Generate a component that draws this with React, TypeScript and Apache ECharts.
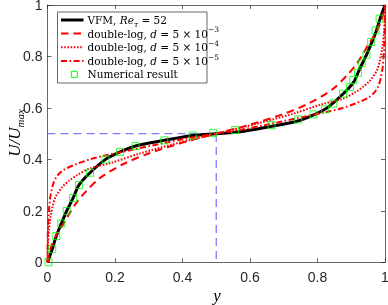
import React, { useEffect, useRef } from "react";
import * as echarts from "echarts";

// ---- data ----
const tickValues = [0, 0.2, 0.4, 0.6, 0.8, 1];
const tickLabels = ["0", "0.2", "0.4", "0.6", "0.8", "1"];

const vfmX = [0, 0.007, 0.014, 0.026, 0.041, 0.057, 0.076, 0.093, 0.126, 0.172, 0.215, 0.261, 0.346, 0.43, 0.5, 0.57, 0.654, 0.739, 0.785, 0.828, 0.874, 0.907, 0.924, 0.943, 0.959, 0.974, 0.986, 0.993, 1];
const vfmU = [0, 0.025, 0.051, 0.102, 0.151, 0.2, 0.25, 0.3, 0.348, 0.4, 0.429, 0.452, 0.474, 0.493, 0.5, 0.507, 0.526, 0.548, 0.571, 0.6, 0.652, 0.7, 0.749, 0.8, 0.849, 0.898, 0.949, 0.975, 1];

const d3X = [0, 0.005, 0.012, 0.022, 0.035, 0.05, 0.065, 0.085, 0.108, 0.156, 0.225, 0.3, 0.4, 0.5, 0.6, 0.7, 0.775, 0.844, 0.892, 0.915, 0.935, 0.95, 0.965, 0.978, 0.988, 0.995, 1];
const d3U = [0, 0.035, 0.065, 0.095, 0.125, 0.155, 0.19, 0.23, 0.267, 0.328, 0.382, 0.423, 0.465, 0.5, 0.535, 0.577, 0.618, 0.672, 0.733, 0.77, 0.81, 0.845, 0.875, 0.905, 0.935, 0.965, 1];

const d4X = [0, 0.001, 0.003, 0.006, 0.009, 0.015, 0.024, 0.044, 0.065, 0.088, 0.126, 0.187, 0.274, 0.373, 0.5, 0.627, 0.726, 0.813, 0.874, 0.912, 0.935, 0.956, 0.976, 0.985, 0.991, 0.994, 0.997, 0.999, 1];
const d4U = [0, 0.06, 0.11, 0.15, 0.176, 0.215, 0.254, 0.293, 0.318, 0.339, 0.365, 0.386, 0.423, 0.459, 0.5, 0.541, 0.577, 0.614, 0.635, 0.661, 0.682, 0.707, 0.746, 0.785, 0.824, 0.85, 0.89, 0.94, 1];

const d5X = [0, 0.0005, 0.0015, 0.003, 0.007, 0.012, 0.019, 0.03, 0.049, 0.088, 0.126, 0.167, 0.25, 0.35, 0.42, 0.5, 0.58, 0.65, 0.75, 0.833, 0.874, 0.912, 0.951, 0.97, 0.981, 0.988, 0.993, 0.997, 0.9985, 0.9995, 1];
const d5U = [0, 0.08, 0.14, 0.18, 0.243, 0.28, 0.313, 0.338, 0.36, 0.383, 0.4, 0.414, 0.437, 0.465, 0.483, 0.5, 0.517, 0.535, 0.563, 0.586, 0.6, 0.617, 0.64, 0.662, 0.687, 0.72, 0.757, 0.82, 0.86, 0.92, 1];

const numX = [0.003, 0.014, 0.026, 0.041, 0.057, 0.076, 0.093, 0.126, 0.172, 0.215, 0.261, 0.346, 0.43, 0.491, 0.556, 0.664, 0.743, 0.788, 0.822, 0.847, 0.876, 0.896, 0.906, 0.92, 0.931, 0.945, 0.959, 0.972, 0.984];
const numU = [0, 0.051, 0.102, 0.151, 0.2, 0.25, 0.3, 0.348, 0.4, 0.429, 0.452, 0.474, 0.493, 0.503, 0.514, 0.533, 0.555, 0.575, 0.595, 0.617, 0.655, 0.681, 0.708, 0.737, 0.773, 0.807, 0.856, 0.901, 0.947];

const guideX = [0, 0.5, 0.5];
const guideU = [0.5, 0.5, 0];

const legendLabels = [
  "VFM, {i|Re}{sub|τ} = 52",
  "double-log, {i|d} = 5 × 10{sup|−3}",
  "double-log, {i|d} = 5 × 10{sup|−4}",
  "double-log, {i|d} = 5 × 10{sup|−5}",
  "Numerical result",
];

const zip = (xs: number[], ys: number[]) => xs.map((x, i) => [x, ys[i]]);

const RED = "#ff0000";
const SERIF = "'Liberation Serif', 'Times New Roman', serif";
const LSERIF = "'DejaVu Serif', serif";
const SANS = "'Liberation Sans', Arial, Helvetica, sans-serif";
const AX = "#262626";

const dashed = [7.5, 5];
const dotted = [1.6, 1.6];
const dashDot = [6, 2.5, 1.6, 2.5];

export default function App() {
  const ref = useRef<HTMLDivElement>(null);
  useEffect(() => {
    if (!ref.current) return;
    const chart = echarts.init(ref.current, null, { renderer: "svg" });

    const gl = { left: 47.5, top: 5, width: 337.5, height: 257.3 };
    const fmt = (v: number) => tickLabels[tickValues.indexOf(Math.round(v * 10) / 10)] ?? "";
    const axisCommon = {
      type: "value",
      min: 0,
      max: 1,
      interval: 0.2,
      splitLine: { show: false },
      axisLine: { show: true, onZero: false, lineStyle: { color: AX, width: 0.7 } },
      axisTick: { show: true, inside: true, length: 4, lineStyle: { color: AX, width: 0.7 } },
    };

    const rich = {
      i: { fontStyle: "italic", fontFamily: LSERIF, fontSize: 10.5, color: "#000" },
      sub: { fontStyle: "italic", fontFamily: LSERIF, fontSize: 7.5, color: "#000", verticalAlign: "bottom", lineHeight: 16 },
      sup: { fontFamily: LSERIF, fontSize: 7.5, color: "#000", verticalAlign: "top", lineHeight: 16 },
    };

    const rowY = [20, 33.5, 47.3, 61, 74.3];
    const lineStyles = [
      { stroke: "#000", lineWidth: 3 },
      { stroke: RED, lineWidth: 2, lineDash: dashed },
      { stroke: RED, lineWidth: 2, lineDash: dotted },
      { stroke: RED, lineWidth: 2, lineDash: dashDot },
    ];
    const legendChildren: any[] = [
      {
        type: "rect",
        shape: { x: 57.5, y: 12, width: 149.5, height: 71 },
        style: { fill: "#fff", stroke: AX, lineWidth: 0.7 },
      },
    ];
    lineStyles.forEach((ls, i) => {
      legendChildren.push({
        type: "line",
        shape: { x1: 61, y1: rowY[i], x2: 83.5, y2: rowY[i] },
        style: { ...ls },
      });
    });
    legendChildren.push({
      type: "rect",
      shape: { x: 71.3, y: rowY[4] - 3, width: 6, height: 6 },
      style: { fill: "none", stroke: "#00ff00", lineWidth: 1 },
    });
    legendLabels.forEach((t, i) => {
      legendChildren.push({
        type: "text",
        x: 87.5,
        y: rowY[i],
        style: {
          text: t,
          fontFamily: LSERIF,
          fontSize: 10.5,
          fill: "#000",
          verticalAlign: "middle",
          align: "left",
          rich,
        },
      });
    });

    const option: any = {
      animation: false,
      grid: { ...gl, containLabel: false, outerBoundsMode: "none" },
      xAxis: [
        {
          ...axisCommon,
          position: "bottom",
          axisLabel: { show: true, formatter: fmt, fontFamily: SANS, fontSize: 14, color: AX, margin: 8 },
        },
        { ...axisCommon, position: "top", axisLabel: { show: false } },
      ],
      yAxis: [
        {
          ...axisCommon,
          position: "left",
          axisLabel: { show: true, formatter: fmt, fontFamily: SANS, fontSize: 14, color: AX, margin: 5 },
        },
        { ...axisCommon, position: "right", axisLabel: { show: false } },
      ],
      series: [
        {
          type: "line",
          data: zip(guideX, guideU),
          symbol: "none",
          lineStyle: { color: "#7b7bff", width: 1.3, type: [8, 5] },
          z: 1,
        },
        {
          name: "VFM",
          type: "line",
          data: zip(vfmX, vfmU),
          symbol: "none",
          smooth: 0.3,
          lineStyle: { color: "#000", width: 3 },
          z: 2,
        },
        {
          name: "d3",
          type: "line",
          data: zip(d3X, d3U),
          symbol: "none",
          smooth: 0.3,
          lineStyle: { color: RED, width: 2, type: dashed },
          z: 3,
        },
        {
          name: "d4",
          type: "line",
          data: zip(d4X, d4U),
          symbol: "none",
          smooth: 0.3,
          lineStyle: { color: RED, width: 2, type: dotted },
          z: 3,
        },
        {
          name: "d5",
          type: "line",
          data: zip(d5X, d5U),
          symbol: "none",
          smooth: 0.3,
          lineStyle: { color: RED, width: 2, type: dashDot },
          z: 3,
        },
        {
          name: "Numerical",
          type: "scatter",
          data: zip(numX, numU),
          symbol: "rect",
          symbolSize: 7,
          itemStyle: { color: "rgba(0,0,0,0)", borderColor: "#00ff00", borderWidth: 1 },
          z: 4,
        },
      ],
      graphic: [
        { type: "group", children: legendChildren, z: 100 },
        {
          type: "text",
          x: 217,
          y: 295,
          style: { text: "y", fontFamily: SERIF, fontStyle: "italic", fontSize: 17, fill: "#000", align: "center", verticalAlign: "middle" },
        },
        {
          type: "text",
          x: 14,
          y: 133,
          rotation: Math.PI / 2,
          style: {
            text: "{a|U/U}{b|max}",
            align: "center",
            verticalAlign: "middle",
            rich: {
              a: { fontFamily: SERIF, fontStyle: "italic", fontSize: 17, color: "#000", lineHeight: 22, verticalAlign: "middle" },
              b: { fontFamily: SERIF, fontStyle: "italic", fontSize: 11, color: "#000", lineHeight: 22, verticalAlign: "bottom" },
            },
          },
        },
      ],
    };
    chart.setOption(option);
    return () => chart.dispose();
  }, []);
  return <div ref={ref} style={{ position: "fixed", left: 0, top: 0, width: 388, height: 305 }} />;
}
